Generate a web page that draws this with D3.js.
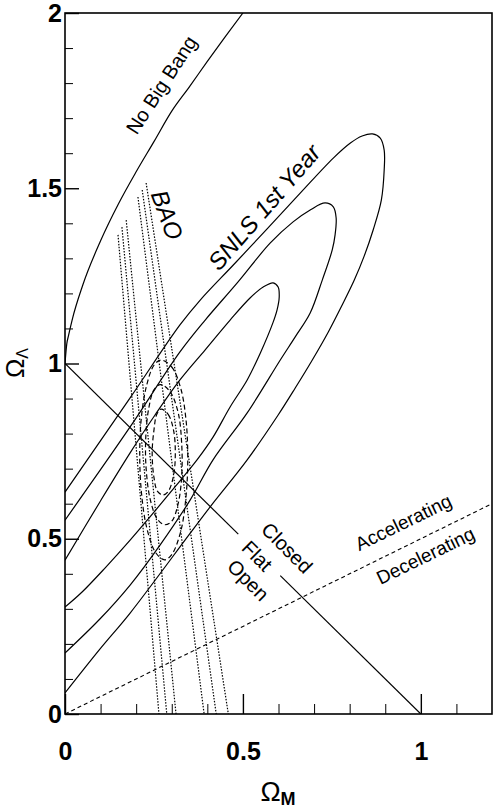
<!DOCTYPE html>
<html><head><meta charset="utf-8">
<script src="https://cdn.jsdelivr.net/npm/d3@7"></script>
<style>
html,body{margin:0;padding:0;background:#fff;}
svg{display:block;font-family:"Liberation Sans",Arial,Helvetica,sans-serif;}
</style></head>
<body><svg id="c" width="493" height="809"></svg>
<script>
// ---- data ----
const xMajorTicks = [0, 0.5, 1];
const xMinorTicks = [0.1, 0.2, 0.3, 0.4, 0.6, 0.7, 0.8, 0.9, 1.1];
const yMajorTicks = [0, 0.5, 1, 1.5, 2];
const yMinorTicks = [0.1,0.2,0.3,0.4,0.6,0.7,0.8,0.9,1.1,1.2,1.3,1.4,1.6,1.7,1.8,1.9];

// No Big Bang boundary (Omega_M, Omega_Lambda)
const noBigBang = [[0,1.0],[0.005,1.056],[0.01,1.08],[0.02,1.124],[0.05,1.224],[0.1,1.35],[0.15,1.455],
  [0.2,1.547],[0.25,1.633],[0.3,1.72],[0.35,1.79],[0.4,1.862],[0.45,1.932],[0.5,2.0]];

// SNLS 1st year contours (open at Omega_M = 0)
const snlsInner = [[0,0.439],[0.098,0.605],[0.183,0.745],[0.253,0.853],[0.323,0.953],[0.394,1.039],[0.464,1.124],
  [0.52,1.187],[0.557,1.218],[0.585,1.23],[0.599,1.218],[0.602,1.19],[0.596,1.153],[0.585,1.118],[0.549,1.03],
  [0.512,0.953],[0.464,0.876],[0.416,0.79],[0.371,0.725],[0.309,0.648],[0.236,0.559],[0.183,0.496],[0.113,0.417],
  [0.048,0.348],[0,0.305]];
const snlsMiddle = [[0,0.553],[0.183,0.819],[0.323,1.033],[0.394,1.124],[0.484,1.23],[0.577,1.344],[0.641,1.404],
  [0.689,1.438],[0.731,1.458],[0.754,1.447],[0.762,1.415],[0.759,1.367],[0.751,1.324],[0.723,1.238],[0.689,1.144],
  [0.647,1.076],[0.605,1.01],[0.512,0.859],[0.416,0.725],[0.352,0.611],[0.267,0.482],[0.183,0.368],[0.098,0.271],[0,0.174]];
const snlsOuter = [[0,0.633],[0.183,0.902],[0.323,1.11],[0.38,1.181],[0.473,1.281],[0.568,1.384],[0.661,1.486],
  [0.754,1.586],[0.802,1.629],[0.835,1.649],[0.864,1.655],[0.886,1.643],[0.897,1.609],[0.897,1.552],[0.889,1.466],
  [0.866,1.381],[0.841,1.307],[0.813,1.238],[0.779,1.167],[0.740,1.090],[0.695,1.010],[0.647,0.930],[0.599,0.853],
  [0.512,0.725],[0.408,0.591],[0.352,0.516],[0.183,0.288],[0.098,0.185],[0,0.06]];

// BAO dotted bands: [top point, bottom point]
const baoLines = [
  [[0.149,1.367],[0.264,0]], [[0.160,1.389],[0.286,0]], [[0.172,1.409],[0.312,0]],
  [[0.205,1.475],[0.391,0]], [[0.217,1.495],[0.425,0]], [[0.228,1.515],[0.459,0]]
];

// Combined SNLS + BAO contours (closed)
const jointInner = [[0.27,0.87],[0.29,0.855],[0.305,0.81],[0.31,0.745],[0.305,0.68],[0.29,0.635],[0.275,0.625],
  [0.26,0.635],[0.25,0.675],[0.245,0.745],[0.25,0.81],[0.258,0.855]];
const jointMiddle = [[0.268,0.94],[0.295,0.92],[0.318,0.86],[0.328,0.77],[0.328,0.68],[0.318,0.6],[0.3,0.55],
  [0.28,0.54],[0.26,0.555],[0.24,0.61],[0.228,0.7],[0.227,0.79],[0.235,0.87],[0.25,0.925]];
const jointOuter = [[0.27,1.01],[0.3,0.99],[0.325,0.93],[0.34,0.84],[0.345,0.73],[0.34,0.62],[0.325,0.52],
  [0.3,0.455],[0.28,0.44],[0.255,0.46],[0.23,0.53],[0.215,0.63],[0.21,0.74],[0.215,0.85],[0.23,0.94],[0.25,0.995]];

// Flat universe line (with gap for labels) and acceleration line
const flatLineA = [[0,1],[0.487,0.513]];
const flatLineB = [[0.605,0.395],[1,0]];
const accelLine = [[0,0],[1.2,0.6]];

// ---- drawing ----
const svg = d3.select("#c");
const L = 65, R = 492, T = 13, B = 714;
const x = d3.scaleLinear().domain([0,1.2]).range([L,R]);
const y = d3.scaleLinear().domain([0,2]).range([B,T]);

svg.append("defs").append("clipPath").attr("id","clip")
  .append("rect").attr("x",L).attr("y",T).attr("width",R-L).attr("height",B-T);

const plot = svg.append("g").attr("clip-path","url(#clip)");
const line = d3.line().x(d=>x(d[0])).y(d=>y(d[1]));
const smooth = d3.line().x(d=>x(d[0])).y(d=>y(d[1])).curve(d3.curveCatmullRom.alpha(0.5));
const smoothClosed = d3.line().x(d=>x(d[0])).y(d=>y(d[1])).curve(d3.curveCatmullRomClosed.alpha(0.5));

plot.append("path").attr("d", d3.line().x(d=>x(d[0])).y(d=>y(d[1])).curve(d3.curveMonotoneX)(noBigBang))
  .attr("fill","none").attr("stroke","#000").attr("stroke-width",1.2);

[snlsInner, snlsMiddle, snlsOuter].forEach(c=>{
  plot.append("path").attr("d", smooth(c)).attr("fill","none").attr("stroke","#000").attr("stroke-width",1.2);
});

baoLines.forEach(l=>{
  plot.append("path").attr("d", line(l)).attr("fill","none").attr("stroke","#000")
    .attr("stroke-width",1.2).attr("stroke-dasharray","1.5,1.5");
});

[jointInner, jointMiddle, jointOuter].forEach(c=>{
  plot.append("path").attr("d", smoothClosed(c)).attr("fill","none").attr("stroke","#000")
    .attr("stroke-width",1.2).attr("stroke-dasharray","5,3");
});

[flatLineA, flatLineB].forEach(l=>{
  plot.append("path").attr("d", line(l)).attr("fill","none").attr("stroke","#000").attr("stroke-width",1.2);
});
plot.append("path").attr("d", line(accelLine)).attr("fill","none").attr("stroke","#000")
  .attr("stroke-width",1.1).attr("stroke-dasharray","4,3");

// axes
function styleAxis(g, w){
  g.select(".domain").remove();
  g.selectAll(".tick line").attr("stroke","#000").attr("stroke-width",w);
}
svg.append("g").attr("transform",`translate(0,${B})`)
  .call(d3.axisBottom(x).tickValues(xMinorTicks).tickSize(-10).tickFormat(""))
  .call(g=>styleAxis(g,1));
svg.append("g").attr("transform",`translate(0,${B})`)
  .call(d3.axisBottom(x).tickValues(xMajorTicks).tickSize(-20).tickPadding(28).tickFormat(d3.format("")))
  .call(g=>styleAxis(g,1.4))
  .call(g=>g.selectAll("text").attr("fill","#000").attr("font-size",25).attr("font-weight","bold")
      .attr("font-family","'Liberation Sans',Arial,sans-serif"));
svg.append("g").attr("transform",`translate(${L},0)`)
  .call(d3.axisLeft(y).tickValues(yMinorTicks).tickSize(-8).tickFormat(""))
  .call(g=>styleAxis(g,1));
svg.append("g").attr("transform",`translate(${L},0)`)
  .call(d3.axisLeft(y).tickValues(yMajorTicks).tickSize(-14).tickPadding(3).tickFormat(d3.format("")))
  .call(g=>styleAxis(g,1.4))
  .call(g=>g.selectAll("text").attr("fill","#000").attr("font-size",25).attr("font-weight","bold")
      .attr("font-family","'Liberation Sans',Arial,sans-serif"));

svg.append("rect").attr("x",L).attr("y",T).attr("width",R-L).attr("height",B-T)
  .attr("fill","none").attr("stroke","#000").attr("stroke-width",1.6);

// axis titles
const xt = svg.append("text").attr("x",278).attr("y",801).attr("text-anchor","middle").attr("font-size",27);
xt.append("tspan").text("Ω");
xt.append("tspan").attr("font-size",18).attr("font-weight","bold").attr("dy",4).text("M");

const yt = svg.append("text").attr("transform","translate(24,363) rotate(-90)").attr("text-anchor","middle").attr("font-size",26);
yt.append("tspan").text("Ω");
yt.append("tspan").attr("font-size",16).attr("dy",4).text("Λ");

// annotations
function label(txt, dx, dy, ang, size, italic){
  svg.append("text").attr("transform",`translate(${x(dx)},${y(dy)}) rotate(${ang})`)
    .attr("text-anchor","middle").attr("dy","0.35em").attr("font-size",size)
    .attr("font-style", italic ? "italic" : "normal").attr("fill","#000").text(txt);
}
label("No Big Bang", 0.271, 1.795, -57, 20, false);
label("SNLS 1st Year", 0.56, 1.446, -49, 24, true);
label("BAO", 0.287, 1.424, 70, 24, true);
label("Closed", 0.624, 0.474, 45, 20, false);
label("Flat", 0.540, 0.451, 45, 20, false);
label("Open", 0.515, 0.382, 45, 20, false);
label("Accelerating", 0.951, 0.547, -26, 19, false);
label("Decelerating", 1.013, 0.452, -26, 19, false);
</script></body></html>
